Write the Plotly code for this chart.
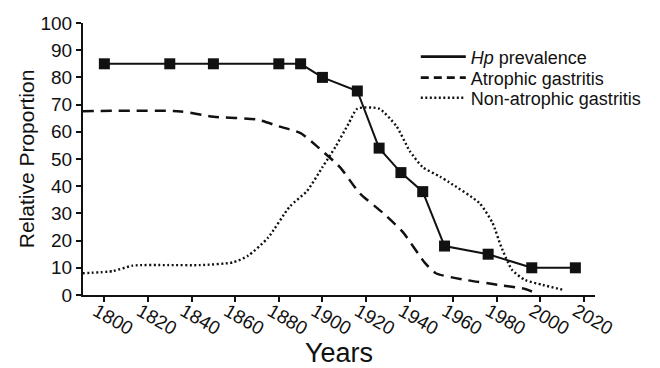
import plotly.graph_objects as go

# Hp prevalence (solid, square markers)
hp_years = [1800, 1830, 1850, 1880, 1890, 1900, 1916, 1926, 1936, 1946, 1956, 1976, 1996, 2016]
hp_values = [85, 85, 85, 85, 85, 80, 75, 54, 45, 38, 18, 15, 10, 10]

# Atrophic gastritis (dashed)
atr_years = [1790, 1835, 1850, 1870, 1880, 1890, 1897, 1908, 1917, 1928, 1937, 1947, 1952, 1966, 1981, 1993, 1999]
atr_values = [67.6, 67.5, 65.5, 64.5, 62, 59.5, 55, 47, 37.5, 30, 23, 11.8, 8, 5.5, 3.7, 2.2, 0.3]

# Non-atrophic gastritis (dotted)
non_years = [1790, 1804, 1813, 1829, 1844, 1859, 1866, 1875, 1885, 1893, 1900, 1906, 1912, 1916,
             1926, 1934, 1940, 1946, 1954, 1958, 1972, 1978, 1982, 1987, 1993, 2001, 2011]
non_values = [8, 8.8, 10.8, 11, 11, 12, 14.5, 21, 32.5, 38.3, 47, 54.5, 63, 68.5,
              68.5, 62, 53, 47, 43.5, 41.5, 33.8, 26.5, 17.7, 9.2, 5.5, 3.7, 1.8]

x_ticks = [1800, 1820, 1840, 1860, 1880, 1900, 1920, 1940, 1960, 1980, 2000, 2020]
y_ticks = [0, 10, 20, 30, 40, 50, 60, 70, 80, 90, 100]

legend_names = ["<i>Hp</i> prevalence", "Atrophic gastritis", "Non-atrophic gastritis"]

FONT = "Liberation Sans, Arial, sans-serif"
INK = "#111111"

fig = go.Figure()

fig.add_trace(go.Scatter(x=atr_years, y=atr_values, mode="lines", showlegend=False,
                         line=dict(color=INK, width=2.5, dash="11px,7px", shape="spline", smoothing=0.6)))
fig.add_trace(go.Scatter(x=non_years, y=non_values, mode="lines", showlegend=False,
                         line=dict(color=INK, width=2.4, dash="2px,2.5px", shape="spline", smoothing=0.6)))
fig.add_trace(go.Scatter(x=hp_years, y=hp_values, mode="lines+markers", showlegend=False,
                         line=dict(color=INK, width=2),
                         marker=dict(symbol="square", size=11, color=INK)))

# legend-only entries (line samples without markers), each in its own legend box
fig.add_trace(go.Scatter(x=[None], y=[None], mode="lines", name=legend_names[0], legend="legend",
                         line=dict(color=INK, width=2.8)))
fig.add_trace(go.Scatter(x=[None], y=[None], mode="lines", name=legend_names[1], legend="legend2",
                         line=dict(color=INK, width=2.8, dash="8px,5px")))
fig.add_trace(go.Scatter(x=[None], y=[None], mode="lines", name=legend_names[2], legend="legend3",
                         line=dict(color=INK, width=2.4, dash="2px,2.5px")))

leg_common = dict(xanchor="left", yanchor="middle",
                  font=dict(size=18, family=FONT, color=INK),
                  bgcolor="rgba(0,0,0,0)", borderwidth=0, itemwidth=45)

axis_font = dict(size=19, family=FONT, color=INK)

# the page body adds an 8px offset; plot area spans x 83..595, y 23..295 in the window
fig.update_layout(
    template="none",
    width=652, height=360,
    margin=dict(l=75, r=65, t=15, b=73, autoexpand=False),
    paper_bgcolor="white", plot_bgcolor="white",
    font=dict(family=FONT, color=INK),
    showlegend=True,
    legend=dict(x=0.65, y=(295 - 57) / 272, **leg_common),
    legend2=dict(x=0.65, y=(295 - 78) / 272, **leg_common),
    legend3=dict(x=0.65, y=(295 - 98) / 272, **leg_common),
    xaxis=dict(range=[1790.2, 2025], tickvals=x_ticks, ticktext=[str(v) for v in x_ticks],
               tickangle=30, tickfont=axis_font, ticklabelshift=-8, ticklabelstandoff=-9,
               automargin=False,
               showline=True, linecolor=INK, linewidth=2, ticks="outside", ticklen=5,
               tickwidth=1.5, tickcolor=INK, showgrid=False, zeroline=False,
               title=dict(text="Years", font=dict(size=27, family=FONT, color=INK), standoff=8)),
    yaxis=dict(range=[0, 100], tickvals=y_ticks, tickfont=axis_font, automargin=False,
               showline=True, linecolor=INK, linewidth=2, ticks="outside", ticklen=5,
               tickwidth=1.5, tickcolor=INK, showgrid=False, zeroline=False,
               title=dict(text="Relative Proportion", font=dict(size=21, family=FONT, color=INK), standoff=0)),
)

fig.write_html("out.html")
